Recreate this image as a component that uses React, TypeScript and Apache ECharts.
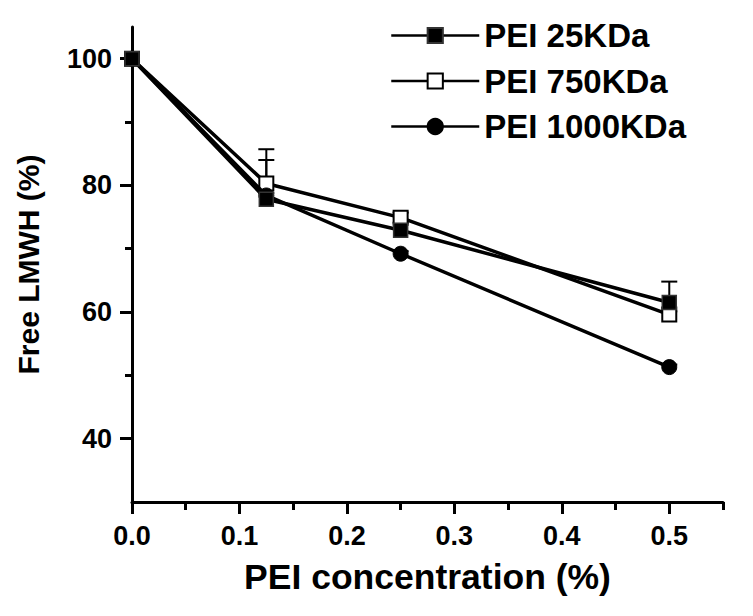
import React, { useEffect, useRef } from "react";
import * as echarts from "echarts";

const concentrations = [0, 0.125, 0.25, 0.5];
const pei25 = [100, 77.8, 72.9, 61.5];
const pei750 = [100, 80.3, 74.9, 59.6];
const pei1000 = [100, 78.4, 69.2, 51.3];
const pei25Err = [0, 6.2, 1.2, 3.3];
const pei750Err = [0, 5.4, 0.8, 0.5];
const pei1000Err = [0, 0.4, 0.4, 0.4];

const xMajorTicks = [0, 0.1, 0.2, 0.3, 0.4, 0.5];
const xMinorTicks = [0.05, 0.15, 0.25, 0.35, 0.45, 0.55];
const yMajorTicks = [40, 60, 80, 100];
const yMinorTicks = [50, 70, 90];

const seriesNames = ["PEI 25KDa", "PEI 750KDa", "PEI 1000KDa"];

const FONT = '"Liberation Sans", Arial, sans-serif';

function pts(vals: number[]) {
  return concentrations.map((c, i) => [c, vals[i]]);
}
function errPts(vals: number[], errs: number[]) {
  return concentrations.map((c, i) => [c, vals[i], vals[i] + errs[i]]);
}

const errRender = (params: any, api: any) => {
  const x = api.value(0);
  const y = api.value(1);
  const hi = api.value(2);
  const p0 = api.coord([x, y]);
  const p1 = api.coord([x, hi]);
  const hw = 8;
  return {
    type: "group",
    children: [
      { type: "line", shape: { x1: p0[0], y1: p0[1], x2: p1[0], y2: p1[1] }, style: { stroke: "#000", lineWidth: 2 } },
      { type: "line", shape: { x1: p1[0] - hw, y1: p1[1], x2: p1[0] + hw, y2: p1[1] }, style: { stroke: "#000", lineWidth: 2 } },
    ],
  };
};

export default function App() {
  const ref = useRef<HTMLDivElement>(null);
  useEffect(() => {
    if (!ref.current) return;
    const chart = echarts.init(ref.current, null, { renderer: "svg" });
    const axisLine = { show: true, lineStyle: { color: "#000", width: 3 } };
    const labelStyle = { color: "#000", fontFamily: FONT, fontWeight: "bold" as const, fontSize: 27 };
    chart.setOption({
      animation: false,
      backgroundColor: "#fff",
      grid: { left: 132, right: 30, top: 27, bottom: 114, containLabel: false },
      legend: {
        data: seriesNames,
        orient: "vertical",
        left: 390,
        top: 19,
        padding: 0,
        itemWidth: 88,
        itemHeight: 19,
        itemGap: 12.5,
        lineStyle: { width: 2.5 },
        textStyle: { color: "#000", fontFamily: FONT, fontWeight: "bold", fontSize: 33 },
      },
      xAxis: [
        {
          type: "value",
          min: 0,
          max: 0.55,
          axisLine,
          axisTick: { show: true, customValues: xMajorTicks, length: 12, lineStyle: { color: "#000", width: 3 } },
          axisLabel: { ...labelStyle, customValues: xMajorTicks, margin: 20, formatter: (v: number) => v.toFixed(1) },
          splitLine: { show: false },
          name: "PEI concentration (%)",
          nameLocation: "middle",
          nameGap: 57,
          nameTextStyle: { color: "#000", fontFamily: FONT, fontWeight: "bold", fontSize: 35.5 },
        },
        {
          type: "value",
          min: 0,
          max: 0.55,
          position: "bottom",
          axisLine: { show: false },
          axisTick: { show: true, customValues: xMinorTicks, length: 8, lineStyle: { color: "#000", width: 3 } },
          axisLabel: { show: false },
          splitLine: { show: false },
        },
      ],
      yAxis: [
        {
          type: "value",
          min: 30,
          max: 105,
          axisLine,
          axisTick: { show: true, customValues: yMajorTicks, length: 12, lineStyle: { color: "#000", width: 3 } },
          axisLabel: { ...labelStyle, customValues: yMajorTicks, margin: 20 },
          splitLine: { show: false },
          name: "Free LMWH (%)",
          nameLocation: "middle",
          nameGap: 89,
          nameTextStyle: { color: "#000", fontFamily: FONT, fontWeight: "bold", fontSize: 30 },
        },
        {
          type: "value",
          min: 30,
          max: 105,
          position: "left",
          axisLine: { show: false },
          axisTick: { show: true, customValues: yMinorTicks, length: 7, lineStyle: { color: "#000", width: 3 } },
          axisLabel: { show: false },
          splitLine: { show: false },
        },
      ],
      series: [
        {
          type: "custom",
          name: "err750",
          renderItem: errRender,
          data: errPts(pei750, pei750Err),
          z: 1,
        },
        {
          type: "custom",
          name: "err1000",
          renderItem: errRender,
          data: errPts(pei1000, pei1000Err),
          z: 1,
        },
        {
          type: "custom",
          name: "err25",
          renderItem: errRender,
          data: errPts(pei25, pei25Err),
          z: 1,
        },
        {
          type: "line",
          name: "PEI 750KDa",
          data: pts(pei750),
          symbol: "rect",
          symbolSize: 14,
          lineStyle: { color: "#000", width: 3.5 },
          itemStyle: { color: "#fff", borderColor: "#000", borderWidth: 2 },
          z: 3,
        },
        {
          type: "line",
          name: "PEI 1000KDa",
          data: pts(pei1000),
          symbol: "circle",
          symbolSize: 15,
          lineStyle: { color: "#000", width: 3.5 },
          itemStyle: { color: "#000", borderColor: "#000", borderWidth: 1 },
          z: 4,
        },
        {
          type: "line",
          name: "PEI 25KDa",
          data: pts(pei25),
          symbol: "rect",
          symbolSize: 14,
          lineStyle: { color: "#000", width: 3.5 },
          itemStyle: { color: "#000", borderColor: "#333", borderWidth: 1.5 },
          z: 5,
        },
      ],
    });
    return () => chart.dispose();
  }, []);
  return <div ref={ref} style={{ width: 753, height: 616, position: "absolute", left: 0, top: 0 }} />;
}
